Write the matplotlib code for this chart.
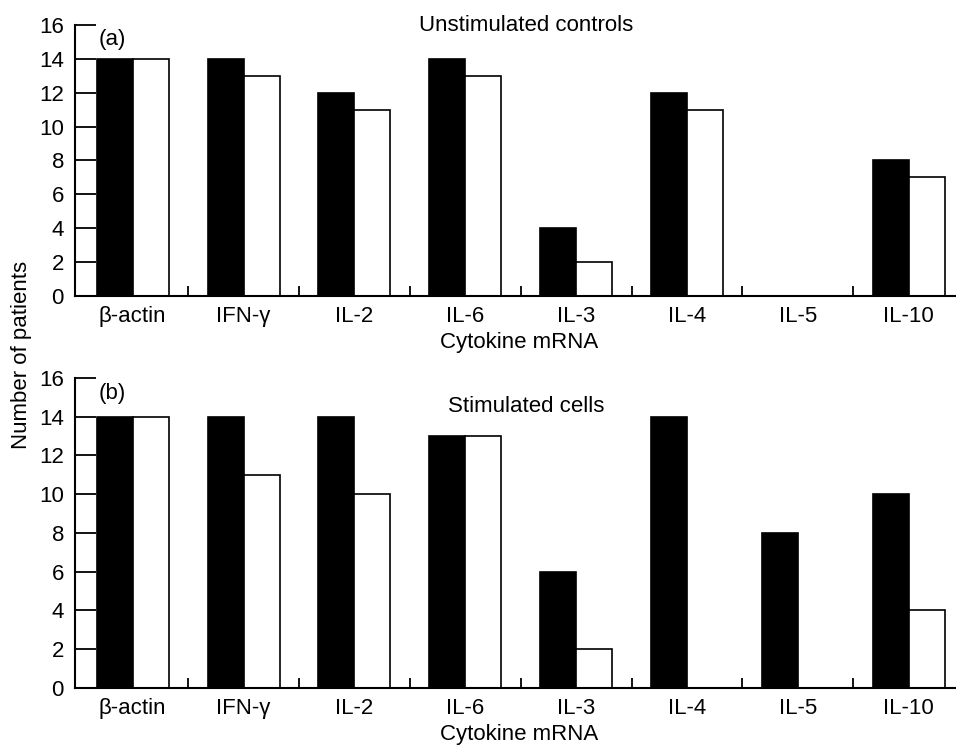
import numpy as np
import matplotlib.pyplot as plt

plt.rcParams['font.family'] = ['Liberation Sans', 'DejaVu Sans']

cytokines = ['β-actin', 'IFN-γ', 'IL-2', 'IL-6', 'IL-3', 'IL-4', 'IL-5', 'IL-10']

# (a) unstimulated controls
unstim_black = [14, 14, 12, 14, 4, 12, 0, 8]
unstim_white = [14, 13, 11, 13, 2, 11, 0, 7]

# (b) stimulated cells
stim_black = [14, 14, 14, 13, 6, 14, 8, 10]
stim_white = [14, 11, 10, 13, 2, 0, 0, 4]

fig = plt.figure(figsize=(9.56, 7.51), dpi=100)
ax_a = fig.add_axes([0.0785, 0.6059, 0.93, 0.3609])
ax_b = fig.add_axes([0.0785, 0.0839, 0.93, 0.4128])

x = np.arange(len(cytokines))
w = 0.325
fs = 16

panels = [
    (ax_a, unstim_black, unstim_white, '(a)', 'Unstimulated controls', 0.96, 0.985),
    (ax_b, stim_black, stim_white, '(b)', 'Stimulated cells', 0.875, 0.985),
]

for ax, blk, wht, tag, title, ty, tagy in panels:
    ax.bar(x - w / 2, blk, w, color='black', edgecolor='black', linewidth=1.2)
    ax.bar(x + w / 2, wht, w, color='white', edgecolor='black', linewidth=1.2)
    ax.set_xlim(-0.52, 7.5)
    ax.set_ylim(0, 16)
    ax.set_yticks(range(0, 17, 2))
    ax.set_xticks(x)
    ax.set_xticklabels(cytokines, fontsize=fs)
    ax.set_xticks(np.arange(0.5, 7, 1), minor=True)
    ax.tick_params(axis='x', which='major', length=0, pad=7)
    ax.tick_params(axis='x', which='minor', direction='in', length=7, width=1.3)
    ax.tick_params(axis='y', direction='in', length=15, width=1.3, labelsize=fs, pad=8)
    for s in ['top', 'right']:
        ax.spines[s].set_visible(False)
    for s in ['left', 'bottom']:
        ax.spines[s].set_linewidth(1.5)
    ax.set_xlabel('Cytokine mRNA', fontsize=fs, labelpad=4)
    ax.text(0.027, tagy, tag, transform=ax.transAxes, fontsize=fs, va='top')
    ax.text(0.507, ty, title, transform=ax.transAxes, fontsize=fs, ha='center', va='bottom')

fig.text(0.023, 0.527, 'Number of patients', rotation=90, fontsize=fs, ha='center', va='center')

fig.savefig('out.png', dpi=100)
